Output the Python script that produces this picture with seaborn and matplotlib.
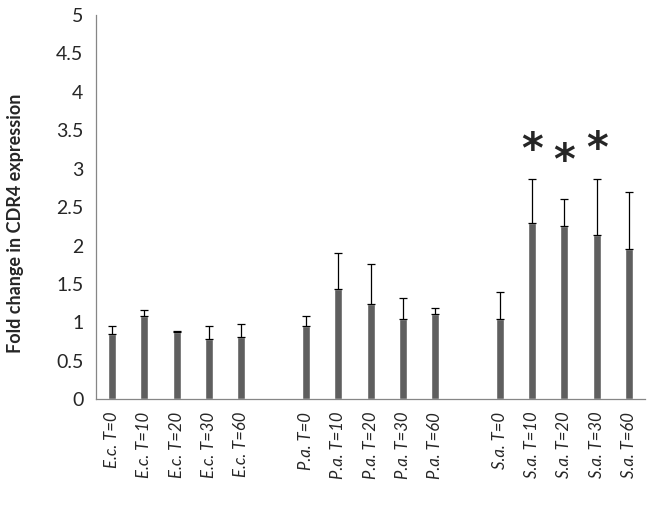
import matplotlib
matplotlib.use('Agg')
import matplotlib.pyplot as plt
import seaborn as sns
import pandas as pd

# values
ec_labels = ['E.c. T=0', 'E.c. T=10', 'E.c. T=20', 'E.c. T=30', 'E.c. T=60']
pa_labels = ['P.a. T=0', 'P.a. T=10', 'P.a. T=20', 'P.a. T=30', 'P.a. T=60']
sa_labels = ['S.a. T=0', 'S.a. T=10', 'S.a. T=20', 'S.a. T=30', 'S.a. T=60']

ec_fold = [0.85, 1.09, 0.88, 0.79, 0.81]
pa_fold = [0.95, 1.43, 1.24, 1.05, 1.11]
sa_fold = [1.05, 2.29, 2.26, 2.14, 1.96]

ec_err = [0.11, 0.07, 0.01, 0.17, 0.17]
pa_err = [0.14, 0.48, 0.52, 0.27, 0.08]
sa_err = [0.35, 0.58, 0.35, 0.72, 0.74]

star_labels = ['S.a. T=10', 'S.a. T=20', 'S.a. T=30']
star_levels = [3.33, 3.18, 3.34]

BAR_COLOR = '#5f5f5f'
AXIS_COLOR = '#868686'

labels = ec_labels + pa_labels + sa_labels
df = pd.DataFrame({
    'sample': labels,
    'fold': ec_fold + pa_fold + sa_fold,
    'err': ec_err + pa_err + sa_err,
})
# empty slots between the three groups
order = ec_labels + [' '] + pa_labels + ['  '] + sa_labels

sns.set_style('white')
plt.rcParams['font.family'] = ['Lato', 'DejaVu Sans']

fig = plt.figure(figsize=(6.53, 5.07), dpi=100)
ax = fig.add_axes([0.147, 0.2124, 0.841, 0.758])

sns.barplot(data=df, x='sample', y='fold', order=order, color=BAR_COLOR,
            width=0.25, saturation=1, errorbar=None, ax=ax)

xpos = [order.index(s) for s in df['sample']]
ax.errorbar(xpos, df['fold'], yerr=[[0] * len(df), df['err']],
            fmt='none', ecolor='black', elinewidth=0.9, capsize=3, capthick=0.9)

# significance asterisks, glyph centred on the given level
for s, lvl in zip(star_labels, star_levels):
    ax.annotate('*', (order.index(s), lvl), xytext=(0, -14),
                textcoords='offset points', ha='center', va='baseline',
                fontsize=30, fontweight='bold', family='DejaVu Sans')

ax.set_xlim(-0.5, len(order) - 0.5)
ax.set_ylim(0, 5)
ax.set_yticks([0, 0.5, 1, 1.5, 2, 2.5, 3, 3.5, 4, 4.5, 5])
ax.set_yticklabels(['0', '0.5', '1', '1.5', '2', '2.5', '3', '3.5', '4', '4.5', '5'],
                   fontsize=14)
ax.set_xticks(range(len(order)))
ax.set_xticklabels(order, rotation=90, fontsize=12, style='italic')
ax.tick_params(axis='y', length=5, color=AXIS_COLOR, width=0.9, pad=4)
ax.tick_params(axis='x', length=0, pad=9)

ax.set_xlabel('')
ax.set_ylabel('Fold change in CDR4 expression', fontsize=13, fontweight='bold',
              va='center', ha='center')
ax.yaxis.set_label_coords(-0.147, 0.459)

sns.despine(ax=ax)
for side in ['left', 'bottom']:
    ax.spines[side].set_color(AXIS_COLOR)
    ax.spines[side].set_linewidth(0.9)

fig.savefig('out.png', dpi=100)
